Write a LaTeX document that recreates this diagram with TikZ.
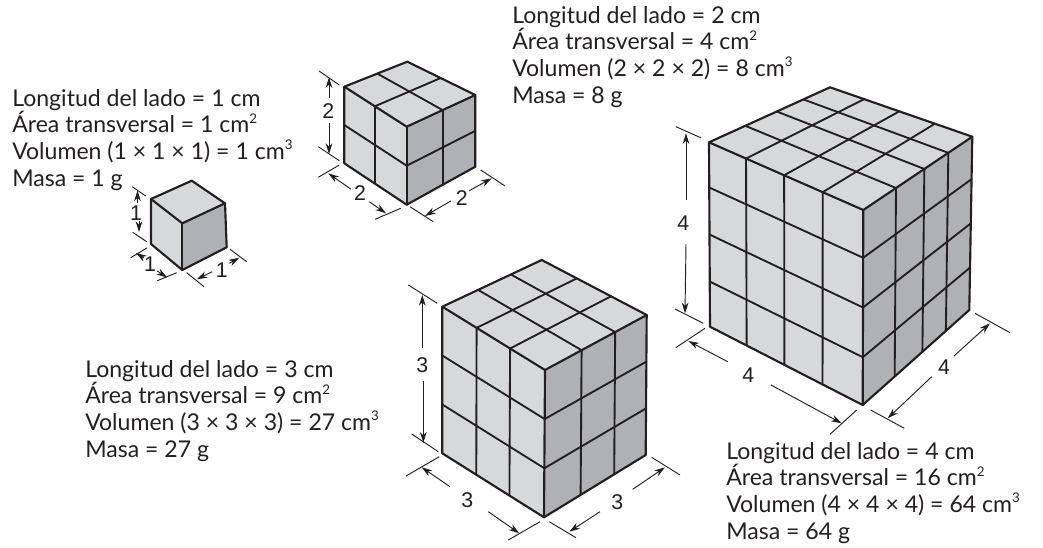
\documentclass[tikz,border=0pt]{standalone}
\usepackage{fontspec}
\setmainfont{Lato}
\newfontfamily\dimfont{Liberation Sans}
\usetikzlibrary{calc,arrows.meta}
\definecolor{ink}{HTML}{231F20}
\definecolor{faceL}{HTML}{D7D8DA}
\definecolor{faceR}{HTML}{B0B1B4}
\tikzset{
  edge/.style={draw=ink,line width=1.6pt,line join=round,line cap=round},
  grid/.style={draw=ink,line width=1.4pt,line cap=round},
  lightface/.style={fill=faceL},
  darkface/.style={fill=faceR},
  tick/.style={draw=ink,line width=0.7pt},
  dimarrow/.style={draw=ink,line width=0.7pt,-{Stealth[length=8pt,width=5pt,inset=2.5pt]}},
  dimlabel/.style={font=\dimfont\fontsize{16}{18}\selectfont,text=ink,inner sep=0pt},
  info/.style={font=\fontsize{17.3}{19.9}\selectfont,text=ink,align=left,anchor=base west,inner sep=0pt}
}
\newcommand{\su}[1]{\raisebox{0.42em}{\fontsize{10}{10}\selectfont #1}}
% #1 prefix, #2 lt, #3 back, #4 rt, #5 ft, #6 fb, #7 lb, #8 rb
\newcommand{\cubefaces}[8]{
  \coordinate (#1lt) at #2; \coordinate (#1bk) at #3; \coordinate (#1rt) at #4;
  \coordinate (#1ft) at #5; \coordinate (#1fb) at #6; \coordinate (#1lb) at #7; \coordinate (#1rb) at #8;
  \path[lightface] (#1lt)--(#1bk)--(#1rt)--(#1ft)--cycle;
  \path[lightface] (#1lt)--(#1ft)--(#1fb)--(#1lb)--cycle;
  \path[darkface] (#1ft)--(#1rt)--(#1rb)--(#1fb)--cycle;
}
% #1 prefix, #2 list of fractions u/v/w
\newcommand{\cubegrid}[2]{
  \foreach \u/\v/\w in {#2}{
    \draw[grid] ($(#1lt)!\v!(#1bk)$) -- ($(#1ft)!\v!(#1rt)$);
    \draw[grid] ($(#1lt)!\u!(#1ft)$) -- ($(#1bk)!\u!(#1rt)$);
    \draw[grid] ($(#1lt)!\u!(#1ft)$) -- ($(#1lb)!\u!(#1fb)$);
    \draw[grid] ($(#1lt)!\w!(#1lb)$) -- ($(#1ft)!\w!(#1fb)$);
    \draw[grid] ($(#1ft)!\v!(#1rt)$) -- ($(#1fb)!\v!(#1rb)$);
    \draw[grid] ($(#1ft)!\w!(#1fb)$) -- ($(#1rt)!\w!(#1rb)$);
  }
}
\newcommand{\cubeedges}[1]{
  \draw[edge] (#1lt)--(#1bk)--(#1rt)--(#1rb)--(#1fb)--(#1lb)--cycle;
  \draw[edge] (#1lt)--(#1ft)--(#1rt);
  \draw[edge] (#1ft)--(#1fb);
}
% #1 name, #2-#3 first tick, #4-#5 second tick, #6 tip a, #7 from a, #8 tip b, #9 from b
\newcommand{\dimset}[9]{
  \coordinate (#1ta) at #2; \coordinate (#1tb) at #3; \coordinate (#1tc) at #4; \coordinate (#1td) at #5;
  \coordinate (#1ah) at #6; \coordinate (#1af) at #7; \coordinate (#1bh) at #8; \coordinate (#1bf) at #9;
  \draw[tick] (#1ta)--(#1tb);
  \draw[tick] (#1tc)--(#1td);
  \draw[dimarrow] (#1af)--(#1ah);
  \draw[dimarrow] (#1bf)--(#1bh);
}
\begin{document}
\begin{tikzpicture}[x=0.75pt,y=-0.75pt]
\useasboundingbox (0,0) rectangle (1043,547);

% cube 1
\cubefaces{a}{(151,199)}{(191.7,180.7)}{(225,203.3)}{(182.3,223.3)}{(182.3,270)}{(151,244)}{(226.7,247.3)}
\cubeedges{a}
\dimset{ah}{(132.3,186.7)}{(145.7,196)}{(132.7,232.3)}{(146.7,241.7)}{(137.5,190.5)}{(137.5,203)}{(139,232)}{(139,221)}
\dimset{al}{(130.7,257.7)}{(147.3,247.7)}{(157.3,280.7)}{(176.7,272.7)}{(136,253)}{(144,258)}{(167,277.5)}{(157.3,271)}
\dimset{ar}{(186.7,272.7)}{(204,286.7)}{(230,249.3)}{(246.7,261.7)}{(196.7,279.3)}{(212.3,271.7)}{(239.3,257.7)}{(229.3,263.3)}
\node[dimlabel] (ahl) at (136,213) {1};
\node[dimlabel] (all) at (150,264) {1};
\node[dimlabel] (arl) at (221.7,270) {1};

% cube 2
\cubefaces{b}{(344.3,86.7)}{(407.3,61.7)}{(475.3,95)}{(406.7,126.7)}{(406.7,204.7)}{(344.3,163.3)}{(475.3,166.7)}
\cubegrid{b}{0.49/0.524/0.5}
\cubeedges{b}
\dimset{bh}{(319,71)}{(339.3,85)}{(318.3,146.7)}{(339.3,160.7)}{(329,77.3)}{(329,97.7)}{(329,154)}{(329,122.7)}
\dimset{bl}{(318.3,177.3)}{(339.3,165)}{(375,219.3)}{(400.7,208.3)}{(328.3,173.3)}{(350.7,189)}{(386,213.3)}{(369.3,201.7)}
\dimset{br}{(410,206.7)}{(433.3,221.7)}{(480.7,170)}{(505,186)}{(425,216)}{(450.7,201)}{(491.7,178.3)}{(469.3,190.7)}
\node[dimlabel] (bhl) at (328.3,111) {2};
\node[dimlabel] (bll) at (360,193.3) {2};
\node[dimlabel] (brl) at (461.7,197.7) {2};

% cube 3
\cubefaces{c}{(442.3,306.7)}{(541.7,260)}{(646.7,315)}{(545,370)}{(544,517.3)}{(442.3,453.3)}{(645.7,455)}
\cubegrid{c}{0.334/0.36/0.333,0.66/0.69/0.667}
\cubeedges{c}
\dimset{ch}{(408.3,285)}{(437.3,303.3)}{(411.7,434)}{(438.3,451.7)}{(422.3,295)}{(422.3,348.3)}{(423.3,442.7)}{(423.3,380.7)}
\dimset{cl}{(406,476)}{(439.3,456.7)}{(508.3,540)}{(540,521.7)}{(421.7,467.3)}{(450,486.7)}{(519.3,533.3)}{(488.3,511.7)}
\dimset{cr}{(549.3,521.7)}{(576,537.7)}{(651.7,457.3)}{(680,475)}{(569.3,531.7)}{(600,511.7)}{(665,467.3)}{(632.7,489.3)}
\node[dimlabel] (chl) at (422.3,365) {3};
\node[dimlabel] (cll) at (467.3,500) {3};
\node[dimlabel] (crl) at (617.3,501.7) {3};

% cube 4
\cubefaces{d}{(709,142.3)}{(830,87.3)}{(972.3,136.7)}{(863.3,210)}{(862.7,405)}{(710,326.7)}{(969.3,310)}
\cubegrid{d}{0.24/0.30/0.245,0.487/0.56/0.5,0.737/0.78/0.755}
\cubeedges{d}
\dimset{dh}{(676,126.7)}{(700.7,137.7)}{(675,309)}{(703.3,323.3)}{(686,133.3)}{(686,200)}{(685,313.3)}{(686,244)}
\dimset{dl}{(675.7,347.7)}{(705,328.3)}{(830,434.3)}{(856.7,410)}{(688.3,341)}{(727.7,361.7)}{(841.7,423.3)}{(771,385)}
\dimset{dr}{(870.7,410)}{(904.3,428.3)}{(975,313.3)}{(1010,332.7)}{(887.7,418.3)}{(931.7,376.7)}{(990,323.3)}{(954,356)}
\node[dimlabel] (dhl) at (683.3,222.7) {4};
\node[dimlabel] (dll) at (748.3,375) {4};
\node[dimlabel] (drl) at (944,367.3) {4};

% texts
\node[info] (ta) at (12,186) {Longitud del lado = 1 cm\\Área transversal = 1 cm\su{2}\\Volumen (1 × 1 × 1) = 1 cm\su{3}\\Masa = 1 g};
\node[info] (tb) at (512,103) {Longitud del lado = 2 cm\\Área transversal = 4 cm\su{2}\\Volumen (2 × 2 × 2) = 8 cm\su{3}\\Masa = 8 g};
\node[info] (tc) at (85,457) {Longitud del lado = 3 cm\\Área transversal = 9 cm\su{2}\\Volumen (3 × 3 × 3) = 27 cm\su{3}\\Masa = 27 g};
\node[info] (td) at (726,539) {Longitud del lado = 4 cm\\Área transversal = 16 cm\su{2}\\Volumen (4 × 4 × 4) = 64 cm\su{3}\\Masa = 64 g};
\end{tikzpicture}
\end{document}
